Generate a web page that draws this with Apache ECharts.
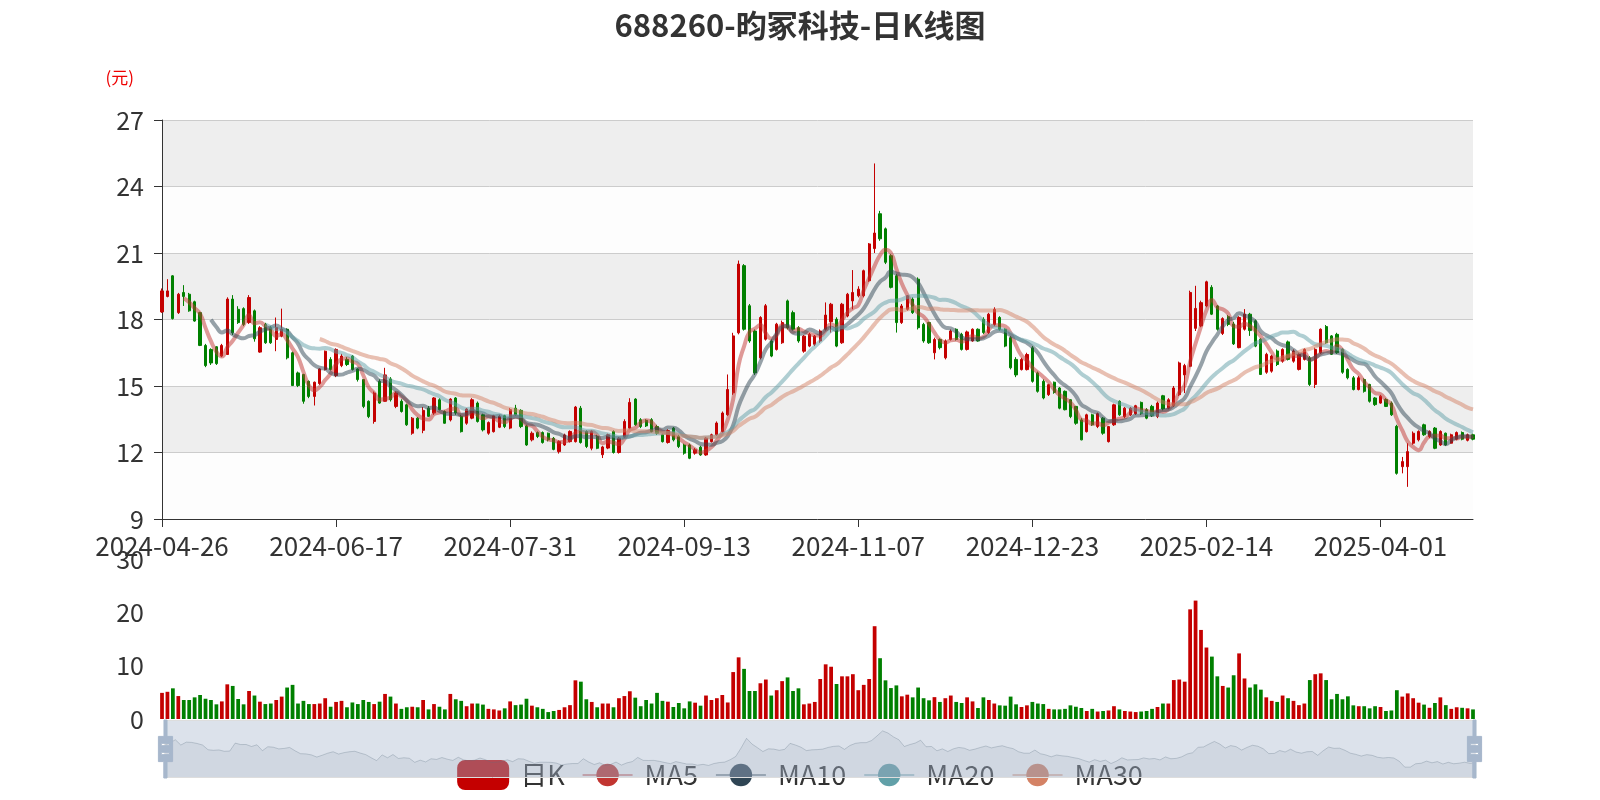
<!DOCTYPE html>
<html><head><meta charset="utf-8">
<script src="https://cdn.jsdelivr.net/npm/echarts/dist/echarts.min.js"></script>
<style>html,body{margin:0;padding:0;background:#fff}#c{width:1600px;height:800px}</style>
</head><body><div id="c"></div>
<script>
const dates = [
'2024-04-26','2024-04-29','2024-04-30',
'2024-05-06','2024-05-07','2024-05-08','2024-05-09','2024-05-10','2024-05-13','2024-05-14','2024-05-15','2024-05-16','2024-05-17','2024-05-20','2024-05-21','2024-05-22','2024-05-23','2024-05-24','2024-05-27','2024-05-28','2024-05-29','2024-05-30','2024-05-31',
'2024-06-03','2024-06-04','2024-06-05','2024-06-06','2024-06-07','2024-06-11','2024-06-12','2024-06-13','2024-06-14','2024-06-17','2024-06-18','2024-06-19','2024-06-20','2024-06-21','2024-06-24','2024-06-25','2024-06-26','2024-06-27','2024-06-28',
'2024-07-01','2024-07-02','2024-07-03','2024-07-04','2024-07-05','2024-07-08','2024-07-09','2024-07-10','2024-07-11','2024-07-12','2024-07-15','2024-07-16','2024-07-17','2024-07-18','2024-07-19','2024-07-22','2024-07-23','2024-07-24','2024-07-25','2024-07-26','2024-07-29','2024-07-30','2024-07-31',
'2024-08-01','2024-08-02','2024-08-05','2024-08-06','2024-08-07','2024-08-08','2024-08-09','2024-08-12','2024-08-13','2024-08-14','2024-08-15','2024-08-16','2024-08-19','2024-08-20','2024-08-21','2024-08-22','2024-08-23','2024-08-26','2024-08-27','2024-08-28','2024-08-29','2024-08-30',
'2024-09-02','2024-09-03','2024-09-04','2024-09-05','2024-09-06','2024-09-09','2024-09-10','2024-09-11','2024-09-12','2024-09-13','2024-09-18','2024-09-19','2024-09-20','2024-09-23','2024-09-24','2024-09-25','2024-09-26','2024-09-27','2024-09-30',
'2024-10-08','2024-10-09','2024-10-10','2024-10-11','2024-10-14','2024-10-15','2024-10-16','2024-10-17','2024-10-18','2024-10-21','2024-10-22','2024-10-23','2024-10-24','2024-10-25','2024-10-28','2024-10-29','2024-10-30','2024-10-31',
'2024-11-01','2024-11-04','2024-11-05','2024-11-06','2024-11-07','2024-11-08','2024-11-11','2024-11-12','2024-11-13','2024-11-14','2024-11-15','2024-11-18','2024-11-19','2024-11-20','2024-11-21','2024-11-22','2024-11-25','2024-11-26','2024-11-27','2024-11-28','2024-11-29',
'2024-12-02','2024-12-03','2024-12-04','2024-12-05','2024-12-06','2024-12-09','2024-12-10','2024-12-11','2024-12-12','2024-12-13','2024-12-16','2024-12-17','2024-12-18','2024-12-19','2024-12-20','2024-12-23','2024-12-24','2024-12-25','2024-12-26','2024-12-27','2024-12-30','2024-12-31',
'2025-01-02','2025-01-03','2025-01-06','2025-01-07','2025-01-08','2025-01-09','2025-01-10','2025-01-13','2025-01-14','2025-01-15','2025-01-16','2025-01-17','2025-01-20','2025-01-21','2025-01-22','2025-01-23','2025-01-24','2025-01-27',
'2025-02-05','2025-02-06','2025-02-07','2025-02-10','2025-02-11','2025-02-12','2025-02-13','2025-02-14','2025-02-17','2025-02-18','2025-02-19','2025-02-20','2025-02-21','2025-02-24','2025-02-25','2025-02-26','2025-02-27','2025-02-28',
'2025-03-03','2025-03-04','2025-03-05','2025-03-06','2025-03-07','2025-03-10','2025-03-11','2025-03-12','2025-03-13','2025-03-14','2025-03-17','2025-03-18','2025-03-19','2025-03-20','2025-03-21','2025-03-24','2025-03-25','2025-03-26','2025-03-27','2025-03-28','2025-03-31',
'2025-04-01','2025-04-02','2025-04-03','2025-04-07','2025-04-08','2025-04-09','2025-04-10','2025-04-11','2025-04-14','2025-04-15','2025-04-16','2025-04-17','2025-04-18','2025-04-21','2025-04-22','2025-04-23','2025-04-24','2025-04-25'
];
const openP = [
18.34,19.04,19.97,18.31,19.22,19.14,18.80,18.31,16.83,16.65,
16.77,16.35,16.42,18.92,18.46,18.49,17.86,18.39,16.53,17.78,
17.63,17.10,17.25,17.56,16.50,15.59,15.52,15.21,14.53,15.11,
15.74,16.20,15.47,15.92,16.20,16.35,15.77,15.29,14.31,13.40,
15.21,14.31,15.32,14.08,14.31,14.15,12.87,13.55,13.00,14.00,
13.78,14.38,13.85,13.47,14.46,13.63,13.32,13.55,14.23,13.70,
12.87,12.94,13.14,13.66,13.10,14.00,13.90,13.20,12.57,12.90,
12.90,12.87,12.64,12.04,12.34,12.49,12.49,14.00,12.95,12.19,
12.72,11.90,12.20,12.95,12.00,12.70,13.10,14.41,13.48,13.45,
13.48,13.17,12.80,12.45,13.10,12.72,12.34,12.34,11.97,12.24,
11.89,12.49,12.80,12.95,13.70,14.69,17.40,20.43,18.62,17.48,
16.27,17.11,17.03,16.65,16.95,18.84,18.31,17.63,16.57,16.80,
16.88,17.03,17.56,17.90,18.01,16.95,18.16,18.84,19.07,19.07,
19.75,21.20,22.77,22.09,20.88,19.97,17.86,18.46,18.92,19.82,
17.78,17.86,16.50,17.10,16.27,17.10,17.56,17.33,16.65,17.03,
17.56,18.01,17.41,17.78,18.09,17.56,17.18,16.20,15.74,15.74,
16.72,15.59,15.21,14.61,15.17,14.91,14.76,14.38,14.08,13.47,
12.94,13.70,13.17,13.55,12.49,13.25,14.31,13.62,13.70,13.75,
14.26,13.93,14.08,13.62,14.56,14.00,14.11,14.61,15.50,15.89,
17.60,17.71,18.61,19.45,18.61,17.37,18.13,17.80,16.73,17.56,
18.24,17.94,17.11,15.62,15.67,16.58,16.12,16.99,16.12,15.75,
16.20,16.27,15.07,16.50,17.68,17.26,17.33,16.65,15.75,15.37,
14.84,15.29,15.07,14.46,14.23,14.39,14.23,13.18,11.36,11.36,
12.42,12.57,13.25,12.72,13.10,12.34,12.87,12.42,12.60,12.90,
12.55,12.80
];
const closeP = [
19.29,19.29,18.04,19.14,19.04,18.39,17.93,16.83,15.92,16.04,
16.01,16.83,18.92,17.40,17.86,17.78,18.99,17.13,17.63,16.95,
16.95,17.63,17.56,16.27,15.02,15.02,14.31,14.53,15.17,15.77,
16.57,15.74,16.65,16.35,15.97,15.74,15.29,14.08,13.62,14.68,
14.23,15.50,14.38,14.68,13.85,13.25,13.55,13.10,13.90,13.63,
14.46,13.93,13.32,14.41,13.78,12.94,13.96,14.38,13.40,13.02,
13.35,13.66,13.63,13.17,13.93,13.70,13.17,12.34,12.87,12.72,
12.45,12.57,12.14,12.49,12.79,12.95,14.05,12.45,12.27,12.95,
12.19,12.25,12.80,12.00,12.65,13.40,14.26,13.25,13.17,13.20,
12.95,12.87,12.49,12.99,12.57,12.27,11.97,11.74,12.12,11.89,
12.65,12.80,13.33,13.78,14.84,17.26,20.50,17.56,17.03,15.59,
18.09,18.62,16.35,17.79,17.86,17.63,17.56,17.03,17.25,17.33,
17.25,17.48,18.20,18.69,16.80,18.69,19.14,19.22,19.37,20.20,
21.41,21.90,21.64,20.58,19.45,17.86,18.61,19.07,18.31,17.63,
17.03,16.95,17.10,16.73,17.03,17.48,17.10,16.65,17.44,17.56,
17.03,17.41,18.24,18.46,17.56,16.80,15.82,15.50,16.20,16.42,
15.21,14.76,14.46,15.06,14.71,14.00,13.93,13.62,13.32,12.57,
13.70,13.25,13.75,12.87,13.17,14.15,13.70,14.00,14.00,14.11,
13.75,13.55,13.66,14.23,13.96,14.38,14.91,16.04,15.92,19.22,
18.50,18.76,19.70,18.24,17.56,18.04,17.78,16.90,18.09,18.24,
17.50,16.80,15.52,16.43,16.35,15.97,16.65,16.20,16.58,16.43,
16.65,15.07,16.65,17.56,16.95,16.43,16.50,15.62,15.37,14.84,
15.37,14.76,14.31,14.16,14.54,14.08,13.70,11.06,11.59,12.04,
12.87,12.95,12.80,12.95,12.19,12.95,12.34,12.80,12.90,12.60,
12.80,12.60
];
const lowP = [
18.30,19.00,18.00,18.25,18.61,18.35,17.90,16.80,15.85,15.95,
15.95,16.30,16.40,17.30,17.80,17.70,17.80,17.00,16.50,16.90,
16.90,16.57,17.20,16.20,15.00,14.95,14.20,14.45,14.12,15.05,
15.70,15.70,15.40,15.85,15.90,15.70,15.20,14.00,13.55,13.30,
14.20,14.30,14.30,14.00,13.80,13.20,12.80,13.05,12.87,13.60,
13.70,13.90,13.30,13.40,13.70,12.90,13.25,13.50,13.35,12.95,
12.80,12.90,13.10,13.10,13.05,13.65,13.10,12.30,12.50,12.65,
12.40,12.50,12.10,11.95,12.30,12.45,12.45,12.40,12.20,12.10,
12.15,11.75,12.15,11.95,11.95,12.65,13.05,13.20,13.10,13.15,
12.90,12.80,12.45,12.40,12.50,12.20,11.90,11.70,11.90,11.85,
11.85,12.45,12.75,12.90,13.65,14.60,17.33,17.50,16.95,15.50,
16.20,17.05,16.30,16.60,16.90,17.55,17.50,16.95,16.50,16.75,
16.80,16.95,17.50,17.41,16.75,16.90,18.10,18.46,19.00,19.00,
19.70,21.00,21.55,20.50,19.40,17.41,17.80,18.40,18.25,17.55,
16.95,16.90,16.20,16.65,16.20,17.05,17.05,16.60,16.60,17.00,
17.00,17.35,17.35,17.70,17.50,16.75,15.75,15.40,15.70,15.70,
15.15,14.70,14.40,14.55,14.65,13.95,13.90,13.55,13.25,12.55,
12.90,13.20,13.10,12.80,12.45,13.20,13.65,13.55,13.65,13.70,
13.70,13.50,13.60,13.55,13.90,13.95,14.05,14.55,14.68,15.85,
17.48,17.65,18.55,18.20,17.50,17.30,17.70,16.85,16.70,17.50,
17.26,16.75,15.50,15.55,15.60,15.90,16.05,16.15,16.05,15.70,
16.15,15.00,14.91,16.45,16.90,16.40,16.45,15.55,15.30,14.80,
14.80,14.70,14.25,14.10,14.20,14.05,13.65,11.00,11.06,10.45,
12.35,12.50,12.75,12.65,12.15,12.30,12.30,12.40,12.55,12.55,
12.50,12.55
];
const highP = [
19.40,19.82,20.00,19.20,19.55,19.20,18.85,18.35,16.90,16.70,
16.80,16.90,19.00,19.10,18.60,18.55,19.10,18.45,17.70,17.85,
17.70,18.09,18.49,17.60,16.55,15.65,15.55,15.25,15.20,15.80,
16.60,16.30,16.70,16.45,16.30,16.40,15.80,15.30,14.35,14.75,
15.30,15.82,15.40,14.75,14.40,14.20,13.60,13.60,14.05,14.10,
14.50,14.45,13.90,14.45,14.50,13.70,14.00,14.45,14.30,13.75,
13.40,13.70,13.70,13.70,14.00,14.15,13.95,13.25,12.95,12.95,
12.95,12.90,12.70,12.55,12.85,13.00,14.10,14.10,13.00,13.00,
12.80,12.30,12.85,13.00,12.70,13.50,14.45,14.45,13.55,13.50,
13.55,13.25,12.85,13.05,13.15,12.80,12.40,12.40,12.20,12.30,
12.70,12.85,13.40,13.85,15.52,17.40,20.66,20.50,18.70,17.55,
18.15,18.70,17.10,17.85,17.95,18.90,18.40,17.70,17.30,17.40,
17.30,17.55,18.77,18.75,18.10,18.75,19.20,20.23,19.50,20.25,
21.45,25.04,22.90,22.15,20.95,20.05,18.70,19.10,19.00,19.90,
17.85,17.90,17.18,17.15,17.10,17.55,17.60,17.40,17.50,17.60,
17.60,18.10,18.30,18.55,18.15,17.60,17.25,16.30,16.27,16.50,
16.80,15.65,15.30,15.10,15.20,14.95,14.80,14.40,14.10,13.55,
13.75,13.75,13.80,13.60,13.20,14.20,14.35,14.05,14.05,14.15,
14.30,14.00,14.15,14.30,14.60,14.45,15.00,16.10,16.00,19.30,
19.52,18.85,19.75,19.55,18.65,18.10,18.20,17.90,18.15,18.47,
18.30,18.00,17.15,16.50,16.40,16.65,16.70,17.05,16.65,16.50,
16.70,16.35,16.73,17.60,17.75,17.30,17.40,16.70,15.80,15.45,
15.45,15.35,15.10,14.50,14.60,14.45,14.30,13.25,11.80,12.42,
12.95,13.00,13.30,13.00,13.15,13.00,12.90,12.85,12.95,12.95,
12.85,12.85
];
const volume = [
4.9,5.1,5.75,4.3,3.56,3.56,4.06,4.5,3.8,3.56,
2.75,3.3,6.5,6.2,3.75,2.75,5.25,4.4,3.25,2.8,
2.9,3.56,4.2,5.9,6.4,2.9,3.4,2.8,2.8,2.9,
3.9,2.3,3.2,3.4,2.2,3.1,2.8,3.56,3.2,2.8,
3.25,4.7,4.2,2.9,1.9,2.2,2.3,2.2,3.56,1.8,
2.8,2.3,1.8,4.7,3.7,3.4,2.4,2.9,2.9,2.7,
1.9,1.8,1.6,2.0,3.3,2.6,2.7,3.8,2.5,2.2,
1.9,1.3,1.5,1.7,2.2,2.6,7.25,7.0,3.7,3.2,
2.2,2.9,2.9,2.2,3.9,4.3,5.2,4.0,2.4,3.56,
2.9,4.9,3.4,3.25,2.25,3.0,2.0,3.3,3.06,2.5,
4.4,3.56,3.9,4.5,3.1,8.8,11.56,9.4,5.25,5.25,
6.7,7.4,4.4,5.4,7.1,7.8,5.25,5.75,2.75,2.9,
3.2,7.5,10.25,9.8,6.56,8.0,8.0,8.4,5.4,6.4,
7.5,17.4,11.4,7.25,5.8,6.3,4.25,4.56,4.06,5.9,
3.9,3.5,4.1,3.2,3.9,4.4,3.2,3.0,4.06,3.3,
2.06,4.06,3.56,2.9,2.56,2.5,4.2,2.75,2.25,2.56,
3.2,2.9,2.8,1.9,1.8,1.8,1.9,2.56,2.3,2.06,
1.5,1.9,1.4,1.5,1.6,2.4,1.8,1.5,1.4,1.3,
1.4,1.5,1.9,2.25,2.9,2.9,7.3,7.4,7.0,20.56,
22.2,16.7,13.4,11.7,8.0,6.2,5.9,8.2,12.3,7.6,
5.9,6.5,5.5,4.06,3.4,3.2,4.4,3.9,3.4,2.6,
2.9,7.3,8.4,8.56,7.3,3.7,4.7,3.7,4.25,2.56,
2.4,2.4,2.0,2.4,2.25,1.5,1.6,5.4,4.2,4.8,
3.9,3.06,2.7,2.1,3.0,4.06,2.6,1.9,2.2,2.1,
2.0,1.8
];
const legendNames = ['日K','MA5','MA10','MA20','MA30'];
const maDays = [5,10,20,30];
const maColors = ['#c23531','#2f4554','#61a0a8','#d48265'];
const UP = '#c40000', DOWN = '#008000';

function calcMA(n){
  const r=[];
  for(let i=0;i<closeP.length;i++){
    if(i<n-1){r.push('-');continue;}
    let s=0; for(let j=0;j<n;j++) s+=closeP[i-j];
    r.push(+(s/n).toFixed(3));
  }
  return r;
}
const kData = dates.map((d,i)=>[openP[i],closeP[i],lowP[i],highP[i]]);
const volData = volume.map((v,i)=>({value:v,itemStyle:{color: closeP[i]>=openP[i]?UP:DOWN}}));

const chart = echarts.init(document.getElementById('c'));
const GL = 162, GR = 127;
const option = {
  animation:false,
  textStyle:{fontFamily:'Noto Sans CJK SC'},
  title:{text:'688260-昀冢科技-日K线图',left:'center',top:5,textStyle:{fontSize:31,fontWeight:'bold',color:'#333'}},
  legend:{data:legendNames,left:'center',top:755,z:1,itemWidth:50,itemHeight:28,itemGap:17,
    textStyle:{fontSize:27,color:'#333',padding:[0,0,0,7]}},
  grid:[{left:GL,right:GR,top:120,height:399},{left:GL,right:GR,top:559,height:160}],
  xAxis:[
    {type:'category',data:dates,boundaryGap:false,axisLine:{onZero:false,lineStyle:{color:'#333'}},
     axisTick:{length:8,lineStyle:{color:'#333'}},axisLabel:{interval:31,fontSize:26,color:'#333',margin:14},
     splitLine:{show:false},min:'dataMin',max:'dataMax'},
    {type:'category',gridIndex:1,data:dates,boundaryGap:false,axisLine:{show:false},axisTick:{show:false},
     axisLabel:{show:false},splitLine:{show:false},min:'dataMin',max:'dataMax'}
  ],
  yAxis:[
    {type:'value',min:9,max:27,interval:3,name:'(元)',nameLocation:'end',nameGap:34,
     nameTextStyle:{color:'#e00',fontSize:17,align:'right',padding:[0,28,0,0]},
     axisLine:{show:true,lineStyle:{color:'#333'}},axisTick:{show:true,length:8,lineStyle:{color:'#333'}},
     axisLabel:{fontSize:25,color:'#333',margin:18},
     splitLine:{show:true,lineStyle:{color:'#ccc'}},
     splitArea:{show:true,areaStyle:{color:['rgba(250,250,250,0.3)','rgba(200,200,200,0.3)']}}},
    {type:'value',gridIndex:1,min:0,max:30,interval:10,axisLine:{show:false},axisTick:{show:false},
     axisLabel:{fontSize:25,color:'#333',margin:18},splitLine:{show:false}}
  ],
  dataZoom:[{type:'slider',xAxisIndex:[0,1],start:0,end:100,left:GL,right:GR,top:720,height:58,z:10,
    showDetail:false,brushSelect:false,moveHandleSize:0,
    handleIcon:'path://M8.2,13.6V3.9H6.3v9.7H3.1v14.9h3.3v9.7h1.8v-9.7h3.3V13.6H8.2z M9.7,24.4H4.8v-1.4h4.9V24.4z M9.7,19.1H4.8v-1.4h4.9V19.1z',
    handleSize:'100%',handleStyle:{color:'#a7b7cc',borderColor:'#a7b7cc'},
    fillerColor:'rgba(167,183,204,0.4)',borderColor:'#ddd',backgroundColor:'rgba(47,69,84,0)',
    dataBackground:{lineStyle:{color:'#2f4554',opacity:0.3,width:1},areaStyle:{color:'#2f4554',opacity:0.1}},
    selectedDataBackground:{lineStyle:{color:'#2f4554',opacity:0.3,width:1},areaStyle:{color:'#2f4554',opacity:0.1}}
  }],
  series:[
    {name:'日K',type:'candlestick',data:kData,itemStyle:{color:UP,color0:DOWN,borderColor:UP,borderColor0:DOWN}},
    ...maDays.map((n,k)=>({name:legendNames[k+1],type:'line',data:calcMA(n),smooth:true,showSymbol:false,symbol:'circle',
       color:maColors[k],lineStyle:{width:4,opacity:0.5}})),
    {name:'成交量',type:'bar',xAxisIndex:1,yAxisIndex:1,data:volData}
  ]
};
chart.setOption(option);
</script>
</body></html>
